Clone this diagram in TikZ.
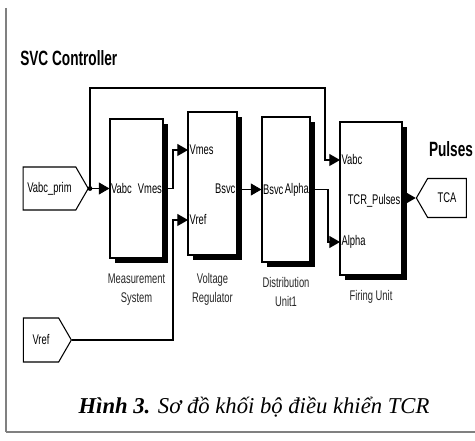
\documentclass[tikz,border=0pt]{standalone}
\usepackage{fontspec}
\setmainfont{Liberation Serif}
\newfontfamily\blockfont[FakeStretch=0.67]{Liberation Sans}
\newfontfamily\titlefont[FakeStretch=0.66]{Liberation Sans}
\usetikzlibrary{arrows.meta,positioning,shapes.symbols,shadows}

\begin{document}
\begin{tikzpicture}[x=0.75pt,y=-0.75pt, node distance=10pt,
 every node/.style={align=center},
 blk/.style={draw,line width=0.8pt,fill=white,inner sep=0pt,
   drop shadow={shadow xshift=3.75pt,shadow yshift=-3.75pt,fill=black,opacity=1}},
 lbl/.style={font=\blockfont\fontsize{10.5}{12}\selectfont,inner sep=1pt},
 blkcap/.style={font=\blockfont\fontsize{10.5}{14.5}\selectfont,inner sep=1pt,text=black!85},
 inport/.style={draw,line width=0.8pt,shape=signal,signal to=east,signal pointer angle=120,
   minimum width=48.75pt,minimum height=32.25pt,inner sep=0pt,font=\blockfont\fontsize{10.5}{12}\selectfont},
 outport/.style={inport,signal to=west,minimum width=37.5pt,minimum height=29.25pt},
 title/.style={font=\titlefont\fontsize{15.5}{17}\selectfont\bfseries,inner sep=0pt},
 wire/.style={line width=0.8pt},
 sig/.style={-{Triangle[length=8pt,width=9pt]}}]
\useasboundingbox (0,0) rectangle (475,441);

\draw[gray,line width=1pt] (6,8) -- (6,432);
\draw[gray,line width=2.2pt] (6,432) -- (475,432);

\node[title,anchor=west] (svc) at (20,58) {SVC Controller};
\node[title] (pulses) at (451,149) {Pulses};

\node[inport] (vabcprim) at (49.5,188.5) {Vabc\_prim};
\node[inport,minimum width=36pt,minimum height=33pt] (vref) at (41,340) {Vref};
\node[outport] (tca) at (447,198) {TCA};

\node[blk,minimum width=39.75pt,minimum height=104.25pt] (meas) at (136.5,188.5) {};
\node[lbl,anchor=west] (measvabc) at (meas.west) {Vabc};
\node[lbl,anchor=east] (measvmes) at (meas.east) {Vmes};
\node[blkcap,below=of meas] (meascap) {Measurement\\System};

\node[blk,minimum width=36.75pt,minimum height=107.25pt] (vreg) at (212.5,183.5) {};
\node[lbl,anchor=west] (vregvmes) at (188,150) {Vmes};
\node[lbl,anchor=west] (vregvref) at (188,220) {Vref};
\node[lbl,anchor=east] (vregbsvc) at (237,189) {Bsvc};
\node[blkcap,below=of vreg,yshift=-2pt] (vregcap) {Voltage\\Regulator};

\node[blk,minimum width=36pt,minimum height=108.75pt] (dist) at (286,189.5) {};
\node[lbl,anchor=west] (distbsvc) at (dist.west) {Bsvc};
\node[lbl,anchor=east] (distalpha) at (dist.east) {Alpha};
\node[blkcap,below=of dist] (distcap) {Distribution\\Unit1};

\node[blk,minimum width=46.5pt,minimum height=114.75pt] (fire) at (371,198.5) {};
\node[lbl,anchor=west] (firevabc) at (340,160) {Vabc};
\node[lbl,anchor=west] (firealpha) at (340,242) {Alpha};
\node[lbl,anchor=east] (firepulses) at (402,201) {TCR\_Pulses};
\node[blkcap,below=of fire] (firecap) {Firing Unit};

\coordinate (jn) at (90,188.5);
\draw[wire] (vabcprim.east) -- (jn);
\draw[wire,sig] (jn) -- (measvabc.west);
\fill (jn) circle (1.8pt);
\draw[wire,sig] (jn) |- (325,88) |- (firevabc.west);
\draw[wire,sig] (meas.east) -- (173,188.5) |- (vregvmes.west);
\draw[wire,sig] (vref.east) -| (173,220) -- (vregvref.west);
\draw[wire,sig] (vreg.east |- distbsvc.west) -- (distbsvc.west);
\draw[wire,sig] (distalpha.east) -| (328,242) -- (firealpha.west);
\draw[wire,sig] (fire.east |- tca.west) -- (tca.west);

\node[font=\fontsize{17}{19}\selectfont\itshape] (caption) at (254,407)
 {\textbf{Hình 3.} Sơ đồ khối bộ điều khiển TCR};
\end{tikzpicture}
\end{document}
